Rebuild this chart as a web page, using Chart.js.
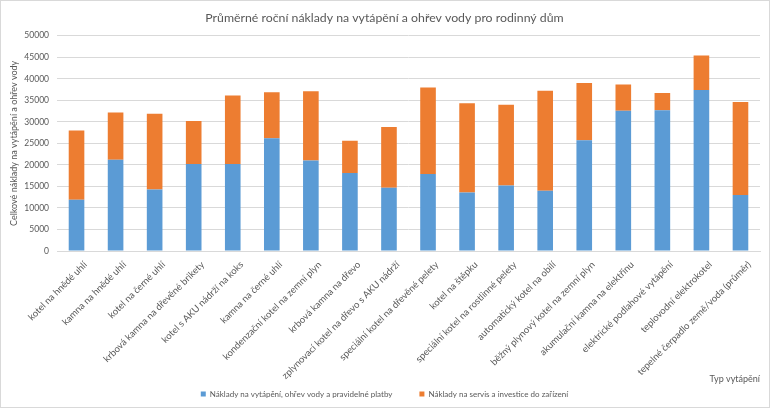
<!DOCTYPE html>
<html>
<head>
<meta charset="utf-8">
<script src="https://cdn.jsdelivr.net/npm/chart.js@4"></script>
<style>
html,body{margin:0;padding:0;background:#fff;}
#wrap{width:770px;height:408px;position:relative;}
</style>
</head>
<body>
<div id="wrap"><canvas id="c" width="770" height="408"></canvas></div>
<script>
const categories = ["kotel na hnědé uhlí","kamna na hnědé uhlí","kotel na černé uhlí","krbová kamna na dřevěné brikety","kotel s AKU nádrží na koks","kamna na černé uhlí","kondenzační kotel na zemní plyn","krbová kamna na dřevo","zplynovací kotel na dřevo s AKU nádrží","speciální kotel na dřevěné pelety","kotel na štěpku","speciální kotel na rostlinné pelety","automatický kotel na obilí","běžný plynový kotel na zemní plyn","akumulační kamna na elektřinu","elektrické podlahové vytápění","teplovodní elektrokotel","tepelné čerpadlo země/voda (průměr)"];
const heatingCosts = [11900, 21200, 14300, 20200, 20200, 26200, 21000, 18100, 14700, 17900, 13600, 15200, 14000, 25700, 32600, 32700, 37400, 13000];
const serviceCosts = [16100, 11000, 17600, 10000, 15900, 10700, 16100, 7500, 14100, 20100, 20700, 18800, 23200, 13300, 6100, 4000, 8000, 21600];
const seriesNames = ["Náklady na vytápění, ohřev vody a pravidelné platby", "Náklady na servis a investice do zařízení"];
const yTicks = [0, 5000, 10000, 15000, 20000, 25000, 30000, 35000, 40000, 45000, 50000];

const FONT = "Lato, 'Open Sans', sans-serif";
const TXT = "#595959";

const frame = {
  id: 'frame',
  afterDraw(chart) {
    const ctx = chart.ctx;
    ctx.save();
    ctx.strokeStyle = '#d9d9d9';
    ctx.lineWidth = 1;
    ctx.strokeRect(0.5, 0.5, chart.width - 1, chart.height - 1);
    ctx.restore();
  }
};

new Chart(document.getElementById('c'), {
  type: 'bar',
  data: {
    labels: categories,
    datasets: [
      { label: seriesNames[0], data: heatingCosts, backgroundColor: '#5B9BD5', borderWidth: 0 },
      { label: seriesNames[1], data: serviceCosts, backgroundColor: '#ED7D31', borderWidth: 0 }
    ]
  },
  options: {
    responsive: false,
    animation: false,
    devicePixelRatio: 1,
    layout: { padding: { left: 9, right: 10, top: 0, bottom: 0 } },
    datasets: { bar: { categoryPercentage: 1, barPercentage: 0.4 } },
    plugins: {
      title: {
        display: true,
        text: "Průměrné roční náklady na vytápění a ohřev vody pro rodinný dům",
        color: TXT,
        font: { family: FONT, size: 12.3, weight: 'normal' },
        padding: { top: 11, bottom: 10 }
      },
      legend: {
        position: 'bottom',
        labels: {
          color: TXT,
          font: { family: FONT, size: 8 },
          boxWidth: 5,
          boxHeight: 5,
          padding: 27
        }
      },
      tooltip: { enabled: false }
    },
    scales: {
      x: {
        stacked: true,
        afterFit(scale) { scale.height = 112; },
        afterUpdate(scale) { scale._computeLabelArea = () => null; },
        grid: { display: false },
        border: { display: true, color: '#d9d9d9' },
        ticks: {
          color: TXT,
          font: { family: FONT, size: 9.5 },
          minRotation: 45,
          maxRotation: 45,
          autoSkip: false,
          padding: 0,
          labelOffset: 9
        },
        title: {
          display: true,
          text: "Typ vytápění",
          align: 'end',
          color: TXT,
          font: { family: FONT, size: 9 },
          padding: { top: 0, bottom: -21.4 }
        }
      },
      y: {
        stacked: true,
        min: 0,
        max: 50000,
        afterFit(scale) { scale.width = 48; },
        afterBuildTicks(scale) { scale.ticks = yTicks.map(v => ({ value: v })); },
        grid: { color: '#d9d9d9', drawTicks: false },
        border: { display: false },
        ticks: {
          color: TXT,
          font: { family: FONT, size: 8.5 },
          padding: 8,
          callback: (v) => String(v)
        },
        title: {
          display: true,
          text: "Celkové náklady na vytápění a ohřev vody",
          color: TXT,
          font: { family: FONT, size: 9 },
          padding: { top: 0, bottom: 4 }
        }
      }
    }
  },
  plugins: [frame]
});
</script>
</body>
</html>
